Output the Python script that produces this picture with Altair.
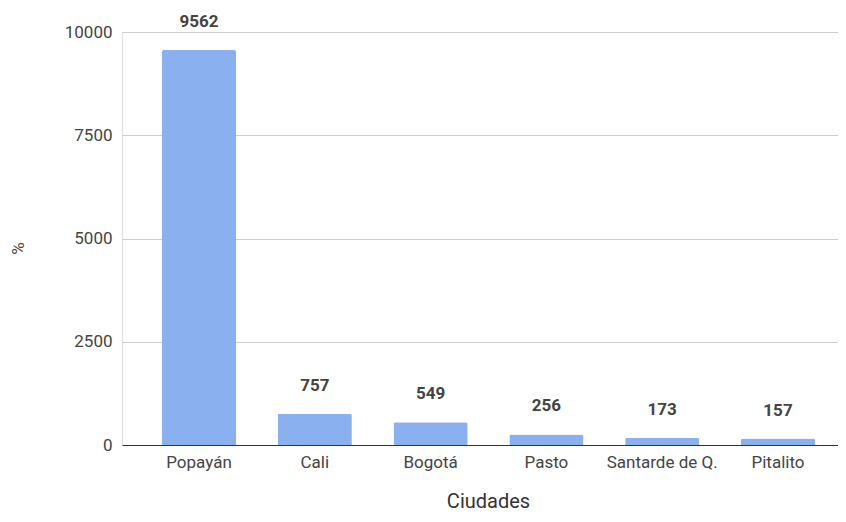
import altair as alt
import pandas as pd

ciudades = ["Popayán", "Cali", "Bogotá", "Pasto", "Santarde de Q.", "Pitalito"]
valores = [9562, 757, 549, 256, 173, 157]

df = pd.DataFrame({"Ciudad": ciudades, "Valor": valores})

FONT = "Roboto"

x = alt.X("Ciudad:N", sort=ciudades,
          scale=alt.Scale(paddingInner=0.36, paddingOuter=0.345),
          axis=alt.Axis(title="Ciudades", labelAngle=0, labelFontSize=17, labelColor="#444444",
                        labelPadding=9, ticks=False, domainColor="#333333", domainWidth=1.2,
                        titleFontSize=20, titleFontWeight="normal", titleColor="#333333",
                        titlePadding=21, titleX=366, titleAnchor="middle",
                        labelFont=FONT, titleFont=FONT))
y = alt.Y("Valor:Q", scale=alt.Scale(domain=[0, 10000], nice=False),
          axis=alt.Axis(title="%", values=[0, 2500, 5000, 7500, 10000], format="d",
                        labelFontSize=17,
                        labelColor="#444444", labelPadding=10, ticks=False, domain=False,
                        gridColor="#cccccc", titleFontSize=17, titleFontWeight="normal",
                        titleColor="#444444", titleX=-95, titleY=216, labelFont=FONT,
                        titleFont=FONT))

bars = alt.Chart(df).mark_bar(color="#8ab0ef", cornerRadiusTopLeft=2,
                               cornerRadiusTopRight=2).encode(x=x, y=y)
labels = alt.Chart(df).mark_text(dy=-28, baseline="middle", fontSize=17, fontWeight="bold",
                                  color="#444444", font=FONT).encode(
    x=alt.X("Ciudad:N", sort=ciudades), y="Valor:Q", text="Valor:Q")

chart = (bars + labels).properties(
    width=733, height=413,
    autosize=alt.AutoSizeParams(type="none"),
    padding={"left": 114, "top": 24, "right": -17, "bottom": 68},
).configure_view(stroke=None).configure(font=FONT)

chart.save("out.html", embed_options={"renderer": "svg", "actions": False})
